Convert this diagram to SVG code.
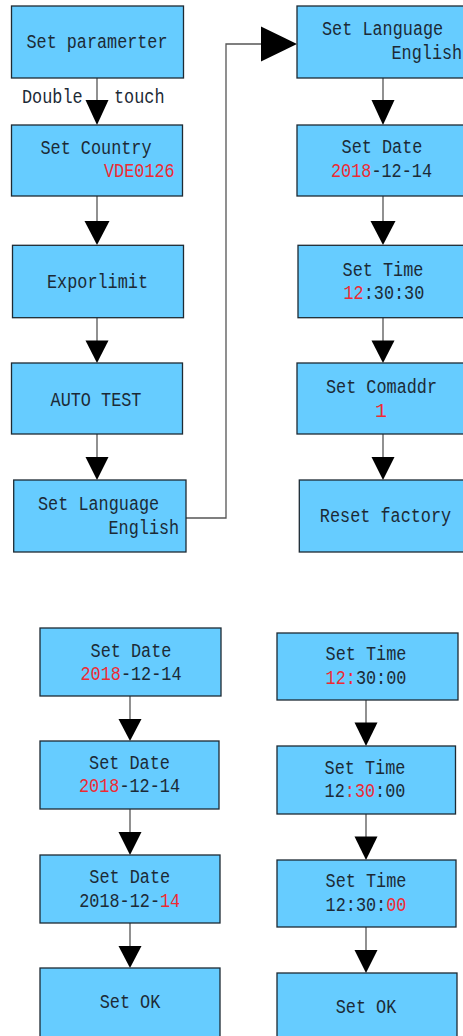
<svg xmlns="http://www.w3.org/2000/svg" width="463" height="1036" viewBox="0 0 463 1036">
<style>
.box{fill:#66CCFF;stroke:#1E2A33;stroke-width:1.3}
.t{font-family:"Liberation Mono","DejaVu Sans Mono",monospace;font-size:20px;fill:#1C2A36}
.m{text-anchor:middle}
.r{fill:#EE2A33}
.ln{fill:none;stroke:#555;stroke-width:1.3}
.ah{fill:#000}
</style>
<rect width="463" height="1036" fill="#fff"/>
<g id="connectors">
<line class="ln" x1="97" y1="78" x2="97" y2="102"/>
<polygon class="ah" points="85.5,100 108.5,100 97,125"/>
<line class="ln" x1="97" y1="196" x2="97" y2="223"/>
<polygon class="ah" points="84.5,221 109.5,221 97,245"/>
<line class="ln" x1="97" y1="318" x2="97" y2="342"/>
<polygon class="ah" points="85.5,340.5 108.5,340.5 97,363"/>
<line class="ln" x1="97" y1="434" x2="97" y2="458"/>
<polygon class="ah" points="85.5,457 108.5,457 97,480"/>
<polyline class="ln" points="186,518 226,518 226,44 263,44"/>
<polygon class="ah" points="261,26.5 261,61.5 297,44"/>
<line class="ln" x1="383" y1="78" x2="383" y2="102"/>
<polygon class="ah" points="371.5,100 394.5,100 383,125"/>
<line class="ln" x1="383" y1="196" x2="383" y2="223"/>
<polygon class="ah" points="370.5,221 395.5,221 383,245"/>
<line class="ln" x1="383" y1="318" x2="383" y2="342"/>
<polygon class="ah" points="371.5,340.5 394.5,340.5 383,363"/>
<line class="ln" x1="383" y1="434" x2="383" y2="458"/>
<polygon class="ah" points="371.5,457 394.5,457 383,480"/>
<line class="ln" x1="130" y1="696" x2="130" y2="720"/>
<polygon class="ah" points="118.5,719 141.5,719 130,741"/>
<line class="ln" x1="130" y1="809" x2="130" y2="833"/>
<polygon class="ah" points="118.5,832 141.5,832 130,855"/>
<line class="ln" x1="130" y1="923" x2="130" y2="947"/>
<polygon class="ah" points="118.5,946 141.5,946 130,968"/>
<line class="ln" x1="366" y1="700" x2="366" y2="724" stroke="#000"/>
<polygon class="ah" points="354.5,722.5 377.5,722.5 366,746"/>
<line class="ln" x1="366" y1="814" x2="366" y2="838"/>
<polygon class="ah" points="354.5,836.5 377.5,836.5 366,860"/>
<line class="ln" x1="366" y1="927" x2="366" y2="951"/>
<polygon class="ah" points="354.5,950 377.5,950 366,973"/>
</g>
<g id="edge-label">
<text class="t" x="22" y="103" textLength="60.6" lengthAdjust="spacingAndGlyphs">Double</text>
<text class="t" x="114" y="103" textLength="50.5" lengthAdjust="spacingAndGlyphs">touch</text>
</g>
<g id="set-paramerter">
<rect class="box" x="11.5" y="6" width="172" height="72"/>
<text class="t m" x="97" y="48" textLength="141" lengthAdjust="spacingAndGlyphs">Set paramerter</text>
</g>
<g id="set-country">
<rect class="box" x="11.5" y="125" width="171" height="71"/>
<text class="t m" x="96" y="154" textLength="111" lengthAdjust="spacingAndGlyphs">Set Country</text>
<text class="t r" x="104" y="177" textLength="70.7" lengthAdjust="spacingAndGlyphs">VDE0126</text>
</g>
<g id="exporlimit">
<rect class="box" x="12.5" y="245.3" width="171" height="72.4"/>
<text class="t m" x="97.5" y="288" textLength="101" lengthAdjust="spacingAndGlyphs">Exporlimit</text>
</g>
<g id="auto-test">
<rect class="box" x="11.5" y="363" width="171" height="71"/>
<text class="t m" x="96" y="406" textLength="90.9" lengthAdjust="spacingAndGlyphs">AUTO TEST</text>
</g>
<g id="set-language-1">
<rect class="box" x="13.7" y="480" width="172.3" height="72"/>
<text class="t" x="38" y="510" textLength="121.2" lengthAdjust="spacingAndGlyphs">Set Language</text>
<text class="t" x="108.5" y="534" textLength="70.7" lengthAdjust="spacingAndGlyphs">English</text>
</g>
<g id="set-language-2">
<rect class="box" x="297" y="6" width="180" height="72"/>
<text class="t" x="322" y="35" textLength="121.2" lengthAdjust="spacingAndGlyphs">Set Language</text>
<text class="t" x="391.5" y="59" textLength="70.7" lengthAdjust="spacingAndGlyphs">English</text>
</g>
<g id="set-date">
<rect class="box" x="297" y="125" width="180" height="71"/>
<text class="t m" x="382" y="153" textLength="80.8" lengthAdjust="spacingAndGlyphs">Set Date</text>
<text class="t" x="331" y="177" textLength="101" lengthAdjust="spacingAndGlyphs"><tspan class="r">2018</tspan>-12-14</text>
</g>
<g id="set-time">
<rect class="box" x="298" y="245.3" width="180" height="72.4"/>
<text class="t m" x="383" y="276" textLength="80.8" lengthAdjust="spacingAndGlyphs">Set Time</text>
<text class="t" x="343.5" y="299" textLength="80.8" lengthAdjust="spacingAndGlyphs"><tspan class="r">12</tspan>:30:30</text>
</g>
<g id="set-comaddr">
<rect class="box" x="297" y="363" width="180" height="71"/>
<text class="t m" x="381.5" y="392.7" textLength="111" lengthAdjust="spacingAndGlyphs">Set Comaddr</text>
<text class="t m r" x="381" y="416.7">1</text>
</g>
<g id="reset-factory">
<rect class="box" x="299.3" y="480" width="180" height="72"/>
<text class="t m" x="385.5" y="521.7" textLength="131.3" lengthAdjust="spacingAndGlyphs">Reset factory</text>
</g>
<g id="date-1">
<rect class="box" x="40" y="628" width="181" height="68"/>
<text class="t m" x="131" y="656.7" textLength="80.8" lengthAdjust="spacingAndGlyphs">Set Date</text>
<text class="t m" x="131" y="679.5" textLength="101" lengthAdjust="spacingAndGlyphs"><tspan class="r">2018</tspan>-12-14</text>
</g>
<g id="date-2">
<rect class="box" x="40" y="741" width="179" height="68"/>
<text class="t m" x="129.5" y="769.3" textLength="80.8" lengthAdjust="spacingAndGlyphs">Set Date</text>
<text class="t m" x="129.5" y="791.7" textLength="101" lengthAdjust="spacingAndGlyphs"><tspan class="r">2018</tspan>-12-14</text>
</g>
<g id="date-3">
<rect class="box" x="40" y="855" width="180" height="68"/>
<text class="t m" x="129.7" y="883" textLength="80.8" lengthAdjust="spacingAndGlyphs">Set Date</text>
<text class="t m" x="129.7" y="907" textLength="101" lengthAdjust="spacingAndGlyphs">2018-12-<tspan class="r">14</tspan></text>
</g>
<g id="date-ok">
<rect class="box" x="40" y="968" width="180" height="80"/>
<text class="t m" x="130" y="1008" textLength="60.6" lengthAdjust="spacingAndGlyphs">Set OK</text>
</g>
<g id="time-1">
<rect class="box" x="277" y="633" width="181" height="67"/>
<text class="t m" x="366" y="660" textLength="80.8" lengthAdjust="spacingAndGlyphs">Set Time</text>
<text class="t m" x="366" y="684" textLength="80.8" lengthAdjust="spacingAndGlyphs"><tspan class="r">12:</tspan>30:00</text>
</g>
<g id="time-2">
<rect class="box" x="277" y="746" width="178.5" height="68"/>
<text class="t m" x="365" y="774" textLength="80.8" lengthAdjust="spacingAndGlyphs">Set Time</text>
<text class="t m" x="365" y="796.7" textLength="80.8" lengthAdjust="spacingAndGlyphs">12<tspan class="r">:30</tspan>:00</text>
</g>
<g id="time-3">
<rect class="box" x="277" y="860" width="179" height="67"/>
<text class="t m" x="366" y="887" textLength="80.8" lengthAdjust="spacingAndGlyphs">Set Time</text>
<text class="t m" x="366" y="911" textLength="80.8" lengthAdjust="spacingAndGlyphs">12:30:<tspan class="r">00</tspan></text>
</g>
<g id="time-ok">
<rect class="box" x="277" y="973" width="180" height="80"/>
<text class="t m" x="366" y="1012.7" textLength="60.6" lengthAdjust="spacingAndGlyphs">Set OK</text>
</g>
</svg>
